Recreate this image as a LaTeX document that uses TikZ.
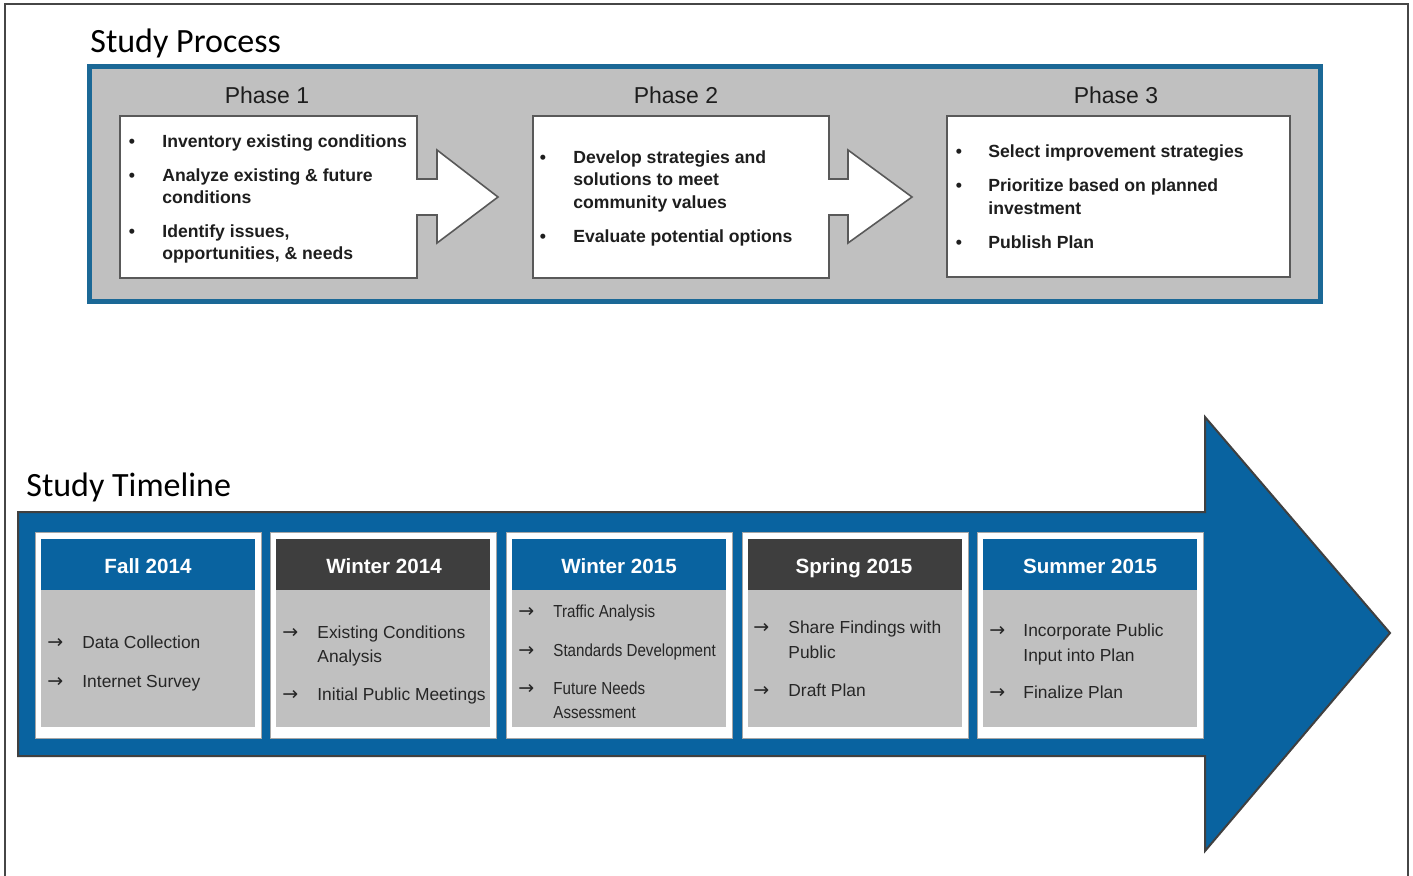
\documentclass[tikz,border=0pt]{standalone}
\usepackage{fontspec}
\setmainfont{Liberation Sans}
\newfontfamily\titlefont{Carlito}
\newfontfamily\symfont{DejaVu Sans}
\newfontfamily\condfont[FakeStretch=0.87]{Liberation Sans}
\definecolor{procblue}{RGB}{27,104,150}
\definecolor{panelgray}{RGB}{192,192,192}
\definecolor{tlblue}{RGB}{9,99,160}
\definecolor{hdrdark}{RGB}{62,62,62}
\definecolor{txtdark}{RGB}{30,30,30}
\definecolor{bodytxt}{RGB}{38,38,38}
\definecolor{framecol}{RGB}{70,70,70}
\tikzset{
  titletxt/.style={anchor=base west,inner sep=0,font=\titlefont\fontsize{17}{20}\selectfont,text=black},
  phasetxt/.style={anchor=base,inner sep=0,font=\fontsize{11.5}{13}\selectfont,text=txtdark},
  ptxt/.style={anchor=base west,inner sep=0,font=\bfseries\fontsize{8.8}{10}\selectfont,text=txtdark},
  pbul/.style={anchor=base,inner sep=0,font=\bfseries\fontsize{8.8}{10}\selectfont,text=txtdark},
  phasebox/.style={fill=white,draw=black!65,line width=0.8pt,line join=miter},
  cardframe/.style={fill=white,draw=black!35,line width=0.4pt},
  hdrblue/.style={fill=tlblue,draw=none},
  hdrgray/.style={fill=hdrdark,draw=none},
  hdrtxt/.style={anchor=base,inner sep=0,font=\bfseries\fontsize{10.3}{12}\selectfont,text=white},
  btxt/.style={anchor=base west,inner sep=0,font=\fontsize{8.7}{10}\selectfont,text=bodytxt},
  ctxt/.style={anchor=base west,inner sep=0,font=\condfont\fontsize{8.7}{10}\selectfont,text=bodytxt},
  barr/.style={anchor=base west,inner sep=0,font=\symfont\fontsize{9.5}{10}\selectfont,text=bodytxt}
}
\begin{document}
\begin{tikzpicture}[x=0.5pt,y=-0.5pt]
\useasboundingbox (0,0) rectangle (1413,875);
\fill[white] (0,0) rectangle (1413,875);
% page frame
\draw[framecol,line width=1pt] (5,880) -- (5,4) -- (1408,4) -- (1408,880);

% ---------- Study Process ----------
\node[titletxt] (tproc) at (90,52) {Study Process};
\draw[procblue,line width=2.6pt,fill=panelgray] (89.5,66.5) rectangle (1320.5,301.5);

\node[phasetxt] (ph1) at (267,103) {Phase 1};
\node[phasetxt] (ph2) at (676,103) {Phase 2};
\node[phasetxt] (ph3) at (1116,103) {Phase 3};

\draw[phasebox] (120,116) -- (417,116) -- (417,179) -- (437,179) -- (437,150) -- (498,197)
  -- (437,243) -- (437,215) -- (417,215) -- (417,278) -- (120,278) -- cycle;
\draw[phasebox] (533,116) -- (829,116) -- (829,179) -- (848,179) -- (848,150) -- (912,197)
  -- (848,243) -- (848,215) -- (829,215) -- (829,278) -- (533,278) -- cycle;
\draw[phasebox] (947,116) rectangle (1290,277);

% phase 1 bullets
\node[pbul] (b11) at (132,147) {•};
\node[ptxt] (p11) at (162,147) {Inventory existing conditions};
\node[pbul] (b12) at (132,181) {•};
\node[ptxt] (p12) at (162,181) {Analyze existing \& future};
\node[ptxt] (p12b) at (162,203) {conditions};
\node[pbul] (b13) at (132,237) {•};
\node[ptxt] (p13) at (162,237) {Identify issues,};
\node[ptxt] (p13b) at (162,259) {opportunities, \& needs};
% phase 2 bullets
\node[pbul] (b21) at (543,163) {•};
\node[ptxt] (p21) at (573,163) {Develop strategies and};
\node[ptxt] (p21b) at (573,185) {solutions to meet};
\node[ptxt] (p21c) at (573,208) {community values};
\node[pbul] (b22) at (543,242) {•};
\node[ptxt] (p22) at (573,242) {Evaluate potential options};
% phase 3 bullets
\node[pbul] (b31) at (959,157) {•};
\node[ptxt] (p31) at (988,157) {Select improvement strategies};
\node[pbul] (b32) at (959,191) {•};
\node[ptxt] (p32) at (988,191) {Prioritize based on planned};
\node[ptxt] (p32b) at (988,214) {investment};
\node[pbul] (b33) at (959,248) {•};
\node[ptxt] (p33) at (988,248) {Publish Plan};

% ---------- Study Timeline ----------
\node[titletxt] (ttime) at (26,496) {Study Timeline};
\draw[fill=tlblue,draw=black!75,line width=1pt,line join=miter]
  (18,512) -- (1205,512) -- (1205,417) -- (1390,633) -- (1205,851) -- (1205,756) -- (18,756) -- cycle;

% cards
\foreach \xl/\sty in {35/hdrblue,270/hdrgray,506/hdrblue,742/hdrgray,977/hdrblue}{
  \draw[cardframe] (\xl,532) rectangle ({\xl+226},738);
  \fill[\sty] ({\xl+6},539) rectangle ({\xl+220},590);
  \fill[panelgray] ({\xl+6},590) rectangle ({\xl+220},727);
}

\node[hdrtxt] (h1) at (148,573) {Fall 2014};
\node[hdrtxt] (h2) at (384,573) {Winter 2014};
\node[hdrtxt] (h3) at (619,573) {Winter 2015};
\node[hdrtxt] (h4) at (854,573) {Spring 2015};
\node[hdrtxt] (h5) at (1090,573) {Summer 2015};

% card 1
\node[barr] (a11) at (47,648) {→};
\node[btxt] (c11) at (82,648) {Data Collection};
\node[barr] (a12) at (47,687) {→};
\node[btxt] (c12) at (82,687) {Internet Survey};
% card 2
\node[barr] (a21) at (282,638) {→};
\node[btxt] (c21) at (317,638) {Existing Conditions};
\node[btxt] (c21b) at (317,662) {Analysis};
\node[barr] (a22) at (282,700) {→};
\node[btxt] (c22) at (317,700) {Initial Public Meetings};
% card 3
\node[barr] (a31) at (518,617) {→};
\node[ctxt] (c31) at (553,617) {Traffic Analysis};
\node[barr] (a32) at (518,656) {→};
\node[ctxt] (c32) at (553,656) {Standards Development};
\node[barr] (a33) at (518,694) {→};
\node[ctxt] (c33) at (553,694) {Future Needs};
\node[ctxt] (c33b) at (553,718) {Assessment};
% card 4
\node[barr] (a41) at (753,633) {→};
\node[btxt] (c41) at (788,633) {Share Findings with};
\node[btxt] (c41b) at (788,658) {Public};
\node[barr] (a42) at (753,696) {→};
\node[btxt] (c42) at (788,696) {Draft Plan};
% card 5
\node[barr] (a51) at (989,636) {→};
\node[btxt] (c51) at (1023,636) {Incorporate Public};
\node[btxt] (c51b) at (1023,661) {Input into Plan};
\node[barr] (a52) at (989,698) {→};
\node[btxt] (c52) at (1023,698) {Finalize Plan};
\end{tikzpicture}
\end{document}
